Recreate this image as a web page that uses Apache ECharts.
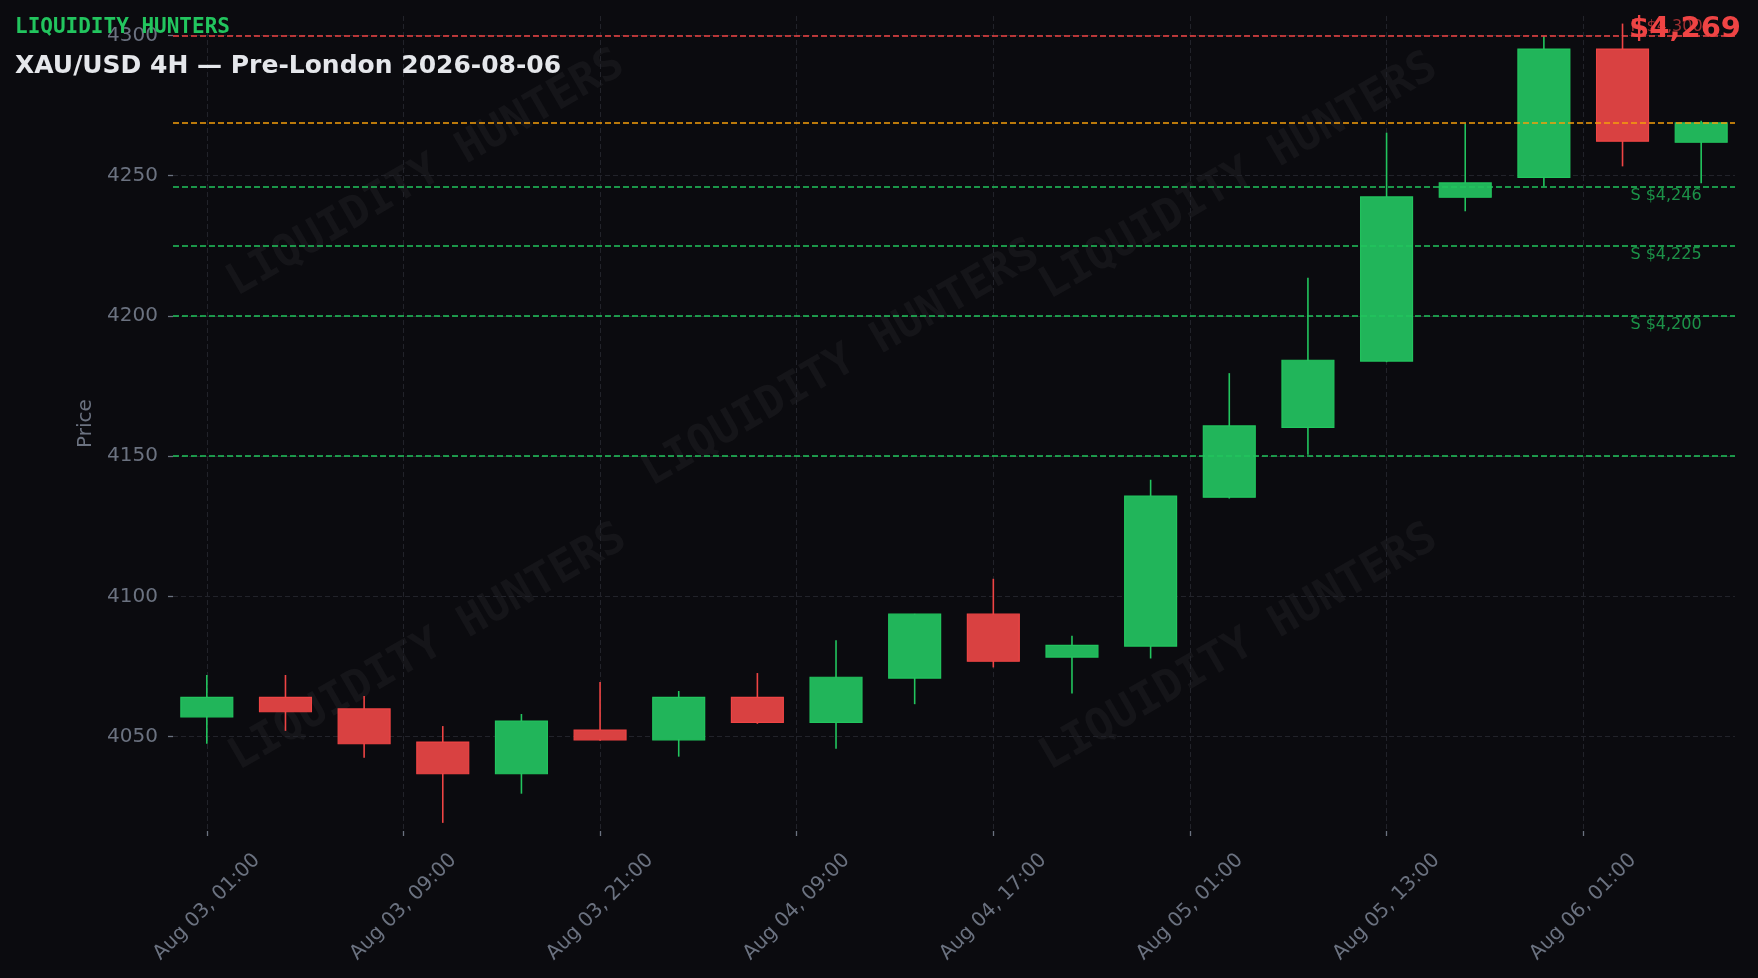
<!DOCTYPE html>
<html>
<head>
<meta charset="utf-8">
<script src="https://cdn.jsdelivr.net/npm/echarts@6/dist/echarts.min.js"></script>
<style>
html,body{margin:0;padding:0;background:#0b0b0f;}
#chart{width:1758px;height:978px;}
</style>
</head>
<body>
<div id="chart"></div>
<script>
// ---- data ----
const times = [
  'Aug 03, 01:00','Aug 03, 05:00','Aug 03, 09:00','Aug 03, 13:00','Aug 03, 17:00','Aug 03, 21:00',
  'Aug 04, 01:00','Aug 04, 05:00','Aug 04, 09:00','Aug 04, 13:00','Aug 04, 17:00','Aug 04, 21:00',
  'Aug 05, 01:00','Aug 05, 05:00','Aug 05, 09:00','Aug 05, 13:00','Aug 05, 17:00','Aug 05, 21:00',
  'Aug 06, 01:00','Aug 06, 05:00'
];
const opens  = [4057.1,4064.0,4059.9,4048.1,4036.8,4052.4,4048.9,4064.0,4055.1,4070.9,4093.7,4078.4,4082.3,4135.4,4160.3,4183.9,4242.3,4249.4,4295.1,4261.9];
const closes = [4064.0,4058.9,4047.5,4036.8,4055.6,4048.9,4064.0,4055.1,4071.2,4093.7,4076.9,4082.6,4135.8,4160.8,4184.2,4242.4,4247.4,4295.1,4262.3,4268.8];
const lows   = [4047.5,4052.1,4042.5,4019.3,4029.7,4048.6,4042.9,4054.6,4045.7,4061.6,4074.7,4065.4,4077.9,4134.9,4150.5,4183.5,4237.3,4246.2,4253.3,4247.3];
const highs  = [4072.0,4072.0,4064.5,4053.8,4058.1,4069.5,4066.3,4072.7,4084.4,4093.8,4106.3,4086.0,4141.6,4179.6,4213.6,4265.3,4268.5,4299.7,4304.2,4269.6];

const xTickPositions = [0, 2.5, 5, 7.5, 10, 12.5, 15, 17.5];
const xTickLabels = ['Aug 03, 01:00','Aug 03, 09:00','Aug 03, 21:00','Aug 04, 09:00','Aug 04, 17:00','Aug 05, 01:00','Aug 05, 13:00','Aug 06, 01:00'];
const yTicks = [4050, 4100, 4150, 4200, 4250, 4300];

const levelValues = [4300, 4246, 4225, 4200, 4150];
const levelKinds  = ['R', 'S', 'S', 'S', 'S'];
const levelLabels = ['R $4,300', 'S $4,246', 'S $4,225', 'S $4,200', ''];

const BRAND = 'LIQUIDITY HUNTERS';
const TITLE = 'XAU/USD 4H \u2014 Pre-London 2026-08-06';

// ---- derived ----
const currentPrice = closes[closes.length - 1];
const priceText = '$' + Math.round(currentPrice).toLocaleString('en-US');
const candleData = times.map((t, i) => [i, opens[i], closes[i], lows[i], highs[i]]);

// ---- styling constants ----
const BG = '#0b0b0f';
const GREEN = '#22c55e', GREEN_FILL = '#21b55a';
const RED = '#ef4444', RED_FILL = '#d94141';
const ORANGE = '#f59e0b';
const GRAY = '#6b7280';
const GRIDC = '#22232a';
const BODY_W = 0.66;
const LABEL_X = 18.1;
const FONT = 'DejaVu Sans';

const chart = echarts.init(document.getElementById('chart'), null, {renderer: 'canvas'});

const wmPos = [[426,174],[841,364],[1239,177],[428,648],[1239,648]];
const watermarks = wmPos.map(p => ({
  type: 'text', x: p[0], y: p[1], rotation: Math.PI / 6, silent: true, z: 0,
  style: {
    text: BRAND, fill: 'rgba(255,255,255,0.045)',
    font: 'bold 44px "DejaVu Sans Mono"',
    align: 'center', verticalAlign: 'middle',
    textAlign: 'center', textVerticalAlign: 'middle'
  }
}));

const option = {
  backgroundColor: BG,
  animation: false,
  grid: {left: 173, right: 23, top: 16, bottom: 147, containLabel: false},
  title: [
    {text: BRAND, left: 15, top: 17, padding: 0, z: 10,
     textStyle: {color: GREEN, fontFamily: 'DejaVu Sans Mono', fontWeight: 'bold', fontSize: 21}},
    {text: TITLE, left: 15, top: 54, padding: 0, z: 10,
     textStyle: {color: '#e5e7eb', fontFamily: FONT, fontWeight: 'bold', fontSize: 25}},
    {text: priceText, right: 17, top: 15, padding: 0, z: 10,
     textStyle: {color: RED, fontFamily: FONT, fontWeight: 'bold', fontSize: 29}}
  ],
  graphic: watermarks,
  xAxis: {
    type: 'value', min: -0.43, max: 19.43,
    axisLine: {show: false, onZero: false},
    axisTick: {show: true, inside: false, customValues: xTickPositions, length: 5, lineStyle: {color: GRAY, width: 1.3}},
    axisLabel: {
      customValues: xTickPositions,
      formatter: v => { const k = xTickPositions.indexOf(v); return k >= 0 ? xTickLabels[k] : ''; },
      rotate: 45, align: 'center', verticalAlign: 'middle', margin: 76,
      color: GRAY, fontSize: 20, fontFamily: FONT
    },
    splitLine: {show: true, lineStyle: {color: GRIDC, type: [5, 3], width: 1}}
  },
  yAxis: {
    type: 'value', min: 4016.4, max: 4306.9,
    name: 'Price', nameLocation: 'middle', nameGap: 67,
    nameTextStyle: {color: GRAY, fontSize: 20, fontFamily: FONT},
    axisLine: {show: false, onZero: false},
    axisTick: {show: true, inside: false, customValues: yTicks, length: 5, lineStyle: {color: GRAY, width: 1.3}},
    axisLabel: {customValues: yTicks, formatter: v => String(v), margin: 15, color: GRAY, fontSize: 20, fontFamily: FONT},
    splitLine: {show: true, lineStyle: {color: GRIDC, type: [5, 3], width: 1}}
  },
  series: [
    {
      type: 'custom', name: 'candles',
      data: candleData,
      encode: {x: 0, y: [1, 2, 3, 4]},
      z: 3,
      renderItem: function (params, api) {
        const i = api.value(0), o = api.value(1), c = api.value(2), l = api.value(3), h = api.value(4);
        const up = c >= o;
        const stroke = up ? GREEN : RED;
        const fill = up ? GREEN_FILL : RED_FILL;
        const pH = api.coord([i, h]), pL = api.coord([i, l]);
        const pT = api.coord([i, Math.max(o, c)]), pB = api.coord([i, Math.min(o, c)]);
        const w = api.size([BODY_W, 0])[0];
        return {
          type: 'group',
          children: [
            {type: 'line', shape: {x1: pH[0], y1: pH[1], x2: pL[0], y2: pL[1]}, style: {stroke: stroke, lineWidth: 1.6}},
            {type: 'rect', shape: {x: pT[0] - w / 2, y: pT[1], width: w, height: Math.max(pB[1] - pT[1], 1)},
             style: {fill: fill, stroke: stroke, lineWidth: 1.2}}
          ]
        };
      },
      markLine: {
        silent: true, symbol: ['none', 'none'], animation: false,
        label: {show: false},
        data: levelValues.map((v, k) => ({
          yAxis: v,
          lineStyle: {color: levelKinds[k] === 'R' ? RED : GREEN, type: [6, 3], width: 1.5}
        })).concat([{yAxis: currentPrice, lineStyle: {color: ORANGE, type: [6, 3], width: 1.5}}])
      }
    },
    {
      type: 'custom', name: 'levelLabels',
      data: levelValues.map(v => [LABEL_X, v]),
      encode: {x: 0, y: 1},
      z: 4,
      renderItem: function (params, api) {
        const k = params.dataIndex;
        const txt = levelLabels[k];
        if (!txt) return {type: 'group', children: []};
        const p = api.coord([api.value(0), api.value(1)]);
        const isR = levelKinds[k] === 'R';
        return {
          type: 'text', x: p[0], y: isR ? p[1] - 1 : p[1] + 1,
          style: {
            text: txt,
            fill: isR ? 'rgba(239,68,68,0.65)' : 'rgba(34,197,94,0.72)',
            font: '16px "DejaVu Sans"',
            align: 'left', textAlign: 'left',
            verticalAlign: isR ? 'bottom' : 'top', textVerticalAlign: isR ? 'bottom' : 'top'
          }
        };
      }
    }
  ]
};
chart.setOption(option);
</script>
</body>
</html>
